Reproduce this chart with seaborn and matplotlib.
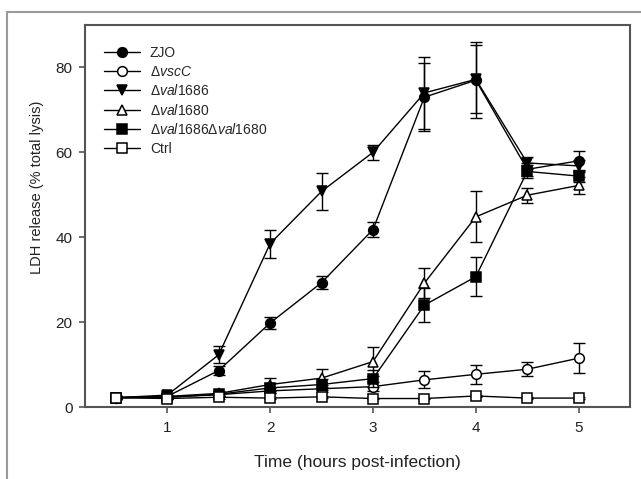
import numpy as np
import pandas as pd
import matplotlib
matplotlib.use("Agg")
import matplotlib.pyplot as plt
from matplotlib.patches import Rectangle
import seaborn as sns

sns.set_theme(style="ticks")
plt.rcParams['font.family'] = ['Liberation Sans', 'DejaVu Sans']
plt.rcParams['mathtext.fontset'] = 'custom'
plt.rcParams['mathtext.rm'] = 'Liberation Sans'
plt.rcParams['mathtext.it'] = 'Liberation Sans:italic'

# -------------------------
#  Data
# -------------------------
time = [0.5, 1, 1.5, 2, 2.5, 3, 3.5, 4, 4.5, 5]

zjo = [2.2, 2.5, 8.6, 19.8, 29.3, 41.8, 73.0, 77.0, 56.0, 58.0]
zjo_err = [0.4, 0.4, 1.0, 1.5, 1.5, 1.8, 8.0, 9.0, 1.5, 2.2]

vscc = [2.2, 2.3, 2.9, 3.8, 4.3, 4.8, 6.4, 7.7, 8.9, 11.5]
vscc_err = [0.3, 0.3, 0.4, 0.6, 0.8, 1.0, 2.0, 2.3, 1.7, 3.5]

val1686 = [2.2, 2.8, 12.3, 38.5, 50.8, 60.0, 74.0, 77.2, 57.5, 56.8]
val1686_err = [0.3, 0.4, 2.0, 3.3, 4.3, 1.8, 8.5, 8.0, 1.5, 1.5]

val1680 = [2.2, 2.5, 3.2, 5.3, 6.8, 10.7, 29.2, 44.8, 49.9, 52.2]
val1680_err = [0.3, 0.3, 0.5, 1.5, 2.2, 3.5, 3.5, 6.0, 1.8, 2.0]

double_ko = [2.2, 2.3, 3.0, 4.5, 5.3, 6.7, 24.0, 30.7, 55.5, 54.4]
double_ko_err = [0.3, 0.3, 0.4, 1.2, 1.3, 2.0, 4.0, 4.6, 1.5, 1.3]

ctrl = [2.2, 2.0, 2.3, 2.1, 2.4, 2.0, 2.0, 2.6, 2.1, 2.1]
ctrl_err = [0.3, 0.2, 0.3, 0.2, 0.3, 0.2, 0.2, 0.3, 0.2, 0.2]

labels = ['ZJO', r'Δ$\it{vscC}$', r'Δ$\it{val}$1686', r'Δ$\it{val}$1680',
          r'Δ$\it{val}$1686Δ$\it{val}$1680', 'Ctrl']
series = [zjo, vscc, val1686, val1680, double_ko, ctrl]
errors = [zjo_err, vscc_err, val1686_err, val1680_err, double_ko_err, ctrl_err]
markers = ['o', 'o', 'v', '^', 's', 's']
faces = ['black', 'white', 'black', 'white', 'black', 'white']

# -------------------------
#  Plot
# -------------------------
fig = plt.figure(figsize=(6.41, 4.79), dpi=100)
ax = fig.add_axes([0.1326, 0.1503, 0.8504, 0.7975])

for i, (lab, y, e, m, fc) in enumerate(zip(labels, series, errors, markers, faces)):
    ax.errorbar(time, y, yerr=e, fmt='none', ecolor='black', elinewidth=1,
                capsize=4.5, capthick=1, zorder=2 + i)
    sns.lineplot(x=time, y=y, ax=ax, color='black', linewidth=1, marker=m,
                 markersize=7 if m != 's' else 6.5, markerfacecolor=fc,
                 markeredgecolor='black', markeredgewidth=1.1, label=lab,
                 zorder=3 + i)

ax.set_xlim(0.2, 5.5)
ax.set_ylim(0, 90)
ax.set_xticks([1, 2, 3, 4, 5])
ax.set_yticks([0, 20, 40, 60, 80])
ax.tick_params(direction='out', length=4, width=1.2, color='#555555',
               labelsize=11, labelcolor='#222222')
ax.tick_params(axis='x', pad=6)
ax.tick_params(axis='y', pad=5)
for sp in ax.spines.values():
    sp.set_color('#555555')
    sp.set_linewidth(1.5)

ax.set_xlabel('Time (hours post-infection)', fontsize=12.5, color='#222222')
ax.set_ylabel('LDH release (% total lysis)', fontsize=10.5, color='#222222')
ax.xaxis.set_label_coords(0.5, -0.125)
ax.yaxis.set_label_coords(-0.075, 0.574)

ax.legend(loc='upper left', frameon=False, fontsize=10, handlelength=2.6,
          labelspacing=0.32, handletextpad=0.7, borderaxespad=0.5,
          bbox_to_anchor=(0.012, 0.977))

# grey outer frame around the panel
fig.patches.append(Rectangle((7 / 641, -0.2), 1.2, 0.2 + (479 - 12) / 479,
                             transform=fig.transFigure, fill=False,
                             edgecolor='#9a9a9a', linewidth=1.5))

fig.savefig('out.png', dpi=100)
